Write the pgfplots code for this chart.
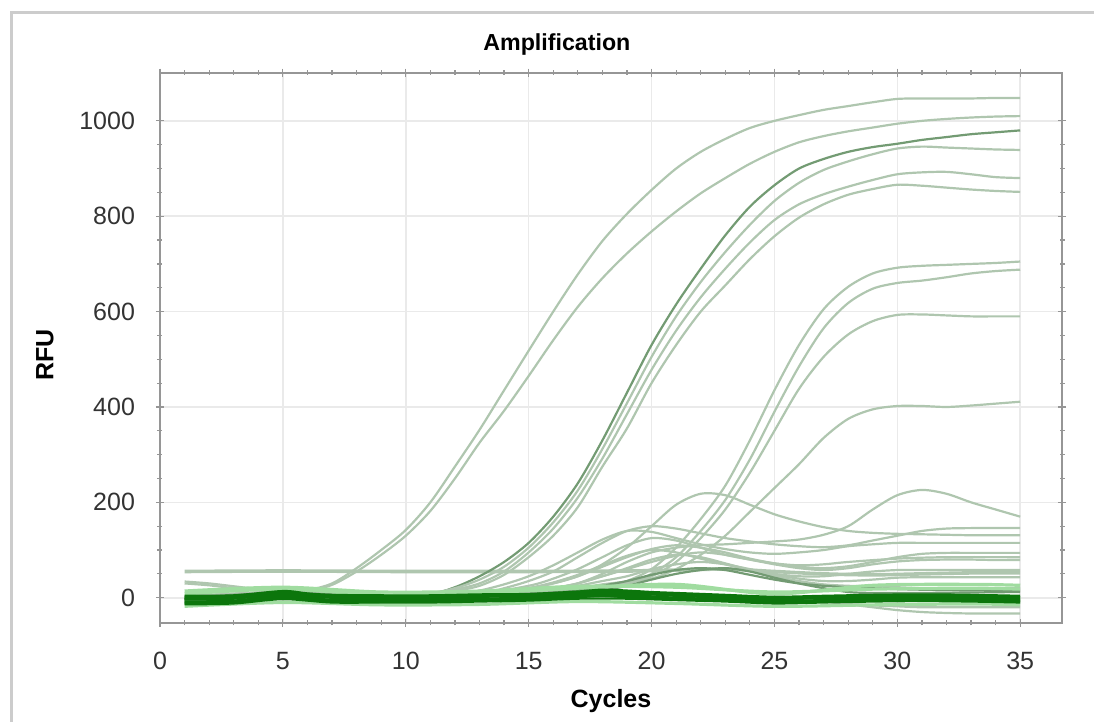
\documentclass[border=0pt]{standalone}
\usepackage{fontspec}
\setmainfont{Liberation Sans}
\usepackage{pgfplots}
\pgfplotsset{compat=1.18}
\definecolor{qcl}{RGB}{175,198,175}
\definecolor{qcm}{RGB}{115,155,115}
\definecolor{qcd}{RGB}{12,118,12}
\definecolor{qlg}{RGB}{160,220,160}
\definecolor{gridc}{RGB}{234,234,234}
\definecolor{axc}{RGB}{150,150,150}
\begin{document}
\begin{tikzpicture}
\useasboundingbox (-80pt,-49.5pt) rectangle (467pt,311.5pt);
\draw[gray!40, line width=1.5pt] (-74pt,-60pt) -- (-74pt,305pt) -- (480pt,305pt);
\begin{axis}[
  at={(0pt,0pt)}, anchor=south west, scale only axis,
  width=451pt, height=275.15pt,
  xmin=0, xmax=36.7, ymin=-53, ymax=1101,
  no markers,
  axis line style={axc, line width=0.9pt},
  tick style={axc, line width=0.6pt},
  major tick length=4pt, minor tick length=2.5pt, tick align=center,
  xtick={0,5,...,35}, minor x tick num=4,
  ytick={0,200,...,1000}, minor y tick num=3,
  grid=major, major grid style={gridc, line width=0.8pt},
  tick label style={font=\fontsize{12.5}{14}\selectfont, text=black!80},
  /pgf/number format/assume math mode=true,
  /pgf/number format/set thousands separator={},
  yticklabel style={xshift=-7pt},
  xticklabel style={yshift=-9pt},
  every axis title shift=0pt,
  title={\bfseries Amplification},
  title style={at={(axis description cs:0.440,1.052)}, anchor=center, font=\fontsize{11.6}{14}\selectfont},
  xlabel={\bfseries Cycles},
  xlabel style={at={(axis description cs:0.5,-0.142)}, anchor=center, font=\fontsize{12.5}{14}\selectfont},
  ylabel={\bfseries RFU},
  ylabel style={at={(axis description cs:-0.1275,0.487)}, anchor=center, font=\fontsize{12.5}{14}\selectfont},
  cv/.style={qcl, line width=1.1pt, smooth},
  cvm/.style={qcm, line width=1.1pt, smooth},
  bl/.style={qcd, line width=1.1pt, smooth},
]
% flat line
\addplot[qcl, line width=1.8pt, smooth] coordinates {(1,55)(5,56)(10,55)(15,55)(19,56)(21,58)(23,60)(25,55)(27,50)(29,48)(31,50)(33,52)(35,52)};
% early curves
\addplot[cv] coordinates {(1,34)(2,30)(3,24)(4,18)(5,14)(6,16)(7,30)(8,62)(9,100)(10,142)(11,200)(12,275)(13,352)(14,435)(15,518)(16,600)(17,678)(18,748)(19,805)(20,855)(21,900)(22,935)(23,962)(24,985)(25,1000)(26,1012)(27,1023)(28,1031)(29,1039)(30,1046)(31,1047)(32,1047)(33,1047)(34,1048)(35,1048)};
\addplot[cv] coordinates {(1,30)(2,26)(3,20)(4,15)(5,12)(6,14)(7,27)(8,55)(9,90)(10,130)(11,182)(12,250)(13,325)(14,392)(15,465)(16,540)(17,610)(18,670)(19,722)(20,768)(21,810)(22,848)(23,880)(24,910)(25,935)(26,955)(27,968)(28,978)(29,986)(30,994)(31,1000)(32,1004)(33,1007)(34,1009)(35,1010)};
% B group
\addplot[cvm] coordinates {(1,-5)(5,8)(9,2)(11,8)(12,22)(13,45)(14,75)(15,115)(16,170)(17,240)(18,330)(19,430)(20,530)(21,615)(22,690)(23,760)(24,820)(25,865)(26,900)(27,920)(28,935)(29,945)(30,952)(31,960)(32,966)(33,972)(34,976)(35,980)};
\addplot[cv] coordinates {(1,0)(5,10)(9,4)(11,10)(12,20)(13,38)(14,65)(15,105)(16,158)(17,225)(18,312)(19,408)(20,505)(21,590)(22,662)(23,725)(24,782)(25,832)(26,870)(27,897)(28,915)(29,930)(30,942)(31,946)(32,944)(33,942)(34,940)(35,939)};
\addplot[cv] coordinates {(1,2)(5,12)(9,5)(11,9)(12,17)(13,30)(14,55)(15,95)(16,145)(17,210)(18,292)(19,385)(20,478)(21,560)(22,630)(23,690)(24,745)(25,792)(26,825)(27,846)(28,862)(29,876)(30,888)(31,892)(32,893)(33,888)(34,882)(35,880)};
\addplot[cv] coordinates {(1,-3)(5,9)(9,3)(11,7)(12,14)(13,25)(14,48)(15,85)(16,130)(17,190)(18,275)(19,355)(20,450)(21,530)(22,600)(23,655)(24,710)(25,758)(26,797)(27,825)(28,845)(29,857)(30,866)(31,864)(32,860)(33,856)(34,853)(35,851)};
% C group
\addplot[cv] coordinates {(1,0)(5,10)(9,3)(13,5)(15,8)(17,14)(18,20)(19,35)(20,60)(21,105)(22,165)(23,235)(24,330)(25,435)(26,530)(27,605)(28,652)(29,680)(30,692)(31,696)(32,698)(33,700)(34,702)(35,705)};
\addplot[cv] coordinates {(1,2)(5,12)(9,4)(13,6)(15,10)(17,18)(18,24)(19,30)(20,50)(21,85)(22,140)(23,205)(24,290)(25,390)(26,485)(27,565)(28,618)(29,648)(30,660)(31,665)(32,672)(33,680)(34,685)(35,688)};
\addplot[cv] coordinates {(1,-2)(5,8)(9,2)(13,4)(15,8)(17,15)(18,22)(19,30)(20,45)(21,75)(22,125)(23,185)(24,262)(25,350)(26,438)(27,505)(28,552)(29,580)(30,593)(31,594)(32,592)(33,590)(34,590)(35,590)};
\addplot[cv] coordinates {(1,3)(5,12)(9,5)(13,8)(15,12)(17,20)(18,28)(19,34)(20,40)(21,60)(22,90)(23,130)(24,180)(25,230)(26,280)(27,335)(28,375)(29,395)(30,402)(31,402)(32,400)(33,403)(34,407)(35,411)};
% bump curves
\addplot[cv] coordinates {(1,0)(5,10)(9,3)(13,8)(15,20)(16,30)(17,45)(18,70)(19,105)(20,150)(21,195)(22,218)(23,215)(24,195)(25,175)(26,160)(27,148)(28,140)(29,136)(30,134)(31,133)(32,132)(33,131)(34,131)(35,131)};
\addplot[cv] coordinates {(1,2)(5,12)(9,5)(13,6)(15,8)(16,15)(17,30)(18,50)(19,75)(20,95)(21,105)(22,110)(23,112)(24,115)(25,118)(26,122)(27,132)(28,150)(29,185)(30,215)(31,226)(32,218)(33,200)(34,185)(35,170)};
\addplot[cv] coordinates {(1,-2)(5,8)(9,2)(13,10)(14,20)(15,35)(16,55)(17,85)(18,115)(19,140)(20,150)(21,145)(22,135)(23,125)(24,118)(25,112)(26,108)(27,106)(28,110)(29,120)(30,130)(31,140)(32,145)(33,146)(34,146)(35,146)};
\addplot[cv] coordinates {(1,0)(5,10)(9,4)(12,8)(13,15)(14,28)(15,45)(16,68)(17,95)(18,122)(19,140)(20,138)(21,125)(22,112)(23,102)(24,95)(25,92)(26,95)(27,100)(28,108)(29,112)(30,115)(31,115)(32,115)(33,115)(34,115)(35,115)};
\addplot[cv] coordinates {(1,-4)(5,6)(9,0)(13,5)(15,20)(16,30)(17,45)(18,65)(19,85)(20,102)(21,110)(22,105)(23,95)(24,82)(25,72)(26,65)(27,62)(28,66)(29,75)(30,85)(31,92)(32,94)(33,94)(34,94)(35,94)};
\addplot[cv] coordinates {(1,1)(5,11)(9,4)(13,6)(15,12)(16,20)(17,30)(18,45)(19,60)(20,75)(21,88)(22,95)(23,90)(24,80)(25,70)(26,62)(27,58)(28,62)(29,70)(30,76)(31,79)(32,80)(33,80)(34,79)(35,79)};
\addplot[cv] coordinates {(1,-1)(5,9)(9,2)(13,6)(15,12)(16,18)(17,25)(18,35)(19,45)(20,60)(21,70)(22,75)(23,70)(24,60)(25,50)(26,45)(27,45)(28,50)(29,55)(30,58)(31,58)(32,58)(33,58)(34,58)(35,58)};
\addplot[cv] coordinates {(1,0)(5,10)(9,3)(13,7)(14,12)(15,20)(16,32)(17,48)(18,68)(19,88)(20,100)(21,95)(22,82)(23,70)(24,58)(25,48)(26,40)(27,35)(28,35)(29,38)(30,42)(31,43)(32,43)(33,43)(34,43)(35,43)};
\addplot[cv] coordinates {(1,-3)(5,7)(9,1)(13,6)(15,12)(16,20)(17,30)(18,45)(19,62)(20,80)(21,90)(22,85)(23,72)(24,58)(25,45)(26,35)(27,28)(28,25)(29,24)(30,22)(31,20)(32,20)(33,20)(34,20)(35,20)};
\addplot[cv] coordinates {(1,2)(5,11)(9,4)(13,10)(15,25)(16,40)(17,60)(18,85)(19,110)(20,125)(21,120)(22,105)(23,90)(24,80)(25,72)(26,68)(27,70)(28,75)(30,82)(32,85)(35,85)};
\addplot[cvm] coordinates {(1,0)(5,10)(9,3)(13,5)(15,8)(17,15)(18,25)(19,35)(20,48)(21,58)(22,62)(23,58)(24,48)(25,38)(26,30)(27,25)(28,22)(30,18)(32,16)(35,15)};
\addplot[cvm] coordinates {(1,-2)(5,8)(9,1)(13,4)(15,6)(17,10)(18,15)(19,25)(20,38)(21,50)(22,58)(23,62)(24,55)(25,42)(26,30)(27,20)(28,12)(29,10)(31,10)(33,11)(35,12)};
% negative drift
\addplot[cv] coordinates {(1,-6)(5,5)(9,-2)(13,0)(17,8)(21,2)(23,0)(25,-3)(26,-5)(27,-8)(28,-12)(29,-16)(30,-18)(31,-20)(33,-20)(35,-20)};
\addplot[cv] coordinates {(1,-9)(5,3)(9,-4)(13,-2)(17,6)(21,0)(23,-2)(25,-2)(26,-4)(27,-8)(28,-14)(29,-20)(30,-26)(31,-30)(32,-32)(33,-33)(35,-33)};
% light green halo of baseline bundle
\addplot[qlg, line width=1.6pt, smooth] coordinates {(1,14)(5,22)(9,12)(13,14)(17,24)(21,22)(25,12)(29,18)(33,20)(35,18)};
\addplot[qlg, line width=1.6pt, smooth] coordinates {(1,-18)(5,-10)(9,-15)(13,-14)(17,-8)(21,-12)(25,-18)(29,-15)(33,-13)(35,-15)};
\addplot[qlg, line width=1.6pt, smooth] coordinates {(1,8)(5,18)(9,6)(13,10)(17,20)(21,28)(25,8)(29,26)(33,28)(35,26)};
% baseline bundle
\addplot[bl] coordinates {(1,-12)(3,-10)(5,0)(6,-5)(7,-8)(9,-7)(11,-8)(13,-6)(15,-4)(17,1)(18,4)(19,1)(21,-3)(23,-6)(25,-10)(27,-8)(29,-6)(31,-5)(33,-6)(35,-8)};
\addplot[bl] coordinates {(1,-8)(3,-6)(5,5)(6,0)(7,-4)(9,-3)(11,-4)(13,-2)(15,0)(17,5)(18,8)(19,6)(21,0)(23,-3)(25,-7)(27,-5)(29,-3)(31,-2)(33,-3)(35,-5)};
\addplot[bl] coordinates {(1,-4)(3,-2)(5,8)(6,3)(7,0)(9,0)(11,-1)(13,2)(15,3)(17,8)(18,12)(19,9)(20,7)(21,4)(23,0)(25,-3)(27,-1)(29,0)(31,1)(33,0)(35,-2)};
\addplot[bl] coordinates {(1,0)(3,2)(5,12)(6,7)(7,3)(9,2)(11,2)(13,4)(15,6)(17,11)(18,15)(19,12)(20,10)(21,7)(23,3)(25,0)(27,2)(29,3)(31,4)(33,3)(35,1)};
\addplot[bl] coordinates {(1,4)(3,5)(5,14)(6,9)(7,6)(9,5)(11,5)(13,7)(15,8)(17,13)(18,17)(19,15)(20,12)(21,10)(23,6)(25,2)(27,4)(29,6)(31,7)(33,6)(35,4)};
\addplot[bl] coordinates {(1,-10)(3,-8)(5,2)(7,-6)(9,-5)(11,-6)(13,-4)(15,-2)(17,3)(19,3)(21,-2)(23,-5)(25,-8)(27,-7)(29,-5)(31,-3)(33,-5)(35,-7)};
\addplot[bl] coordinates {(1,-2)(3,0)(5,10)(7,2)(9,1)(11,1)(13,3)(15,5)(17,10)(19,10)(21,6)(23,2)(25,-2)(27,0)(29,2)(31,3)(33,2)(35,0)};
\addplot[bl] coordinates {(1,-14)(3,-12)(5,-3)(7,-10)(9,-10)(11,-10)(13,-8)(15,-6)(17,-2)(19,-2)(21,-5)(23,-8)(25,-12)(27,-10)(29,-8)(31,-7)(33,-8)(35,-10)};
\end{axis}
\end{tikzpicture}
\end{document}
